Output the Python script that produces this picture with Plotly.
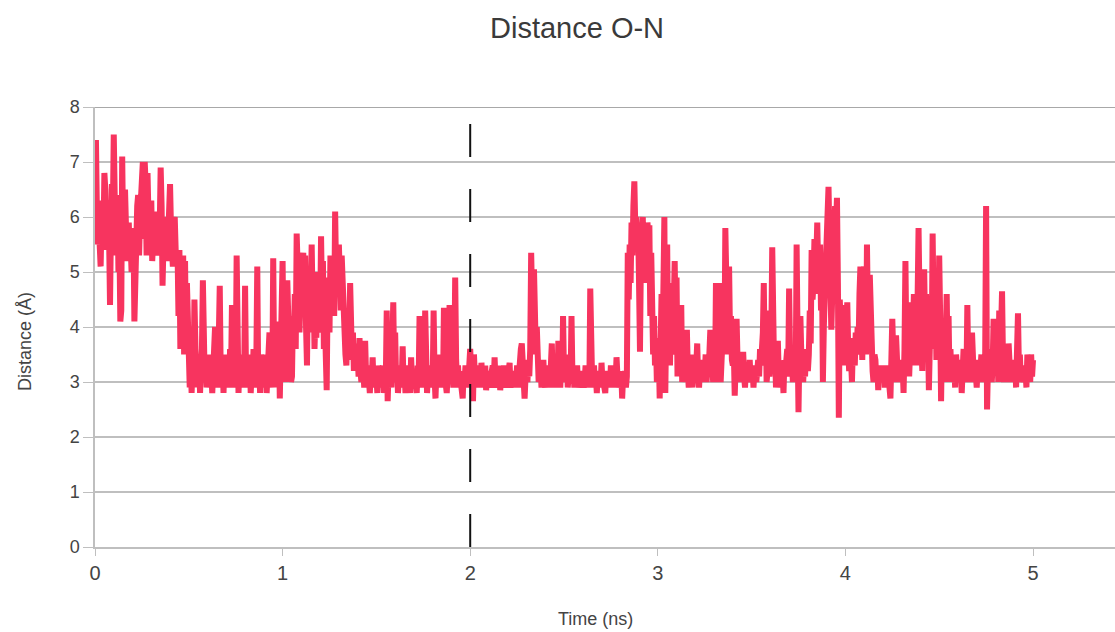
import plotly.graph_objects as go

# ---- data ----
time_step_ns = 0.005
distance_rows = [
    [5.6, 7.4, 6.1, 5.5, 5.9, 5.3, 5.1, 6.0, 6.3, 5.6, 6.8, 6.5, 5.4, 6.0, 6.3, 5.7, 4.4, 5.8, 6.6, 6.0],
    [7.5, 6.4, 5.3, 6.0, 6.4, 5.0, 5.6, 4.1, 4.3, 7.1, 5.6, 6.0, 6.5, 5.8, 5.2, 5.6, 5.9, 5.3, 5.5, 5.0],
    [5.4, 5.8, 4.1, 5.5, 5.8, 6.2, 6.4, 5.3, 6.0, 6.6, 6.9, 7.0, 5.6, 7.0, 6.6, 5.3, 6.8, 6.0, 5.3, 6.2],
    [6.3, 5.2, 5.6, 6.0, 5.6, 5.3, 6.1, 5.4, 5.3, 5.8, 6.9, 6.2, 4.75, 5.5, 6.0, 5.4, 5.8, 5.2, 5.6, 6.2],
    [6.6, 5.8, 5.5, 5.1, 5.9, 6.0, 5.4, 5.3, 5.4, 4.2, 5.4, 3.6, 5.3, 4.6, 5.3, 3.5, 5.2, 3.7, 4.8, 3.5],
    [3.4, 2.9, 3.5, 2.8, 3.3, 3.0, 4.5, 3.1, 2.9, 3.4, 3.0, 3.5, 2.8, 3.3, 3.6, 4.85, 3.2, 3.0, 3.4, 2.9],
    [3.3, 2.9, 3.5, 3.0, 3.2, 2.8, 3.4, 3.1, 4.0, 3.0, 3.3, 2.9, 3.5, 4.75, 3.2, 2.9, 3.4, 2.8, 3.3, 3.0],
    [3.5, 2.9, 3.2, 3.0, 3.6, 3.1, 4.4, 2.9, 3.3, 3.0, 3.2, 5.3, 3.4, 2.8, 3.3, 3.0, 3.5, 2.9, 3.2, 3.0],
    [4.75, 3.1, 2.9, 3.4, 3.0, 3.5, 2.8, 3.2, 3.0, 3.6, 3.1, 2.9, 3.4, 5.1, 3.0, 3.3, 2.8, 3.5, 3.1, 2.9],
    [3.3, 3.0, 3.5, 2.8, 3.4, 3.1, 3.9, 3.0, 3.3, 2.9, 5.25, 3.2, 3.0, 3.5, 2.9, 3.6, 4.1, 2.7, 3.8, 3.5],
    [5.2, 3.4, 4.0, 3.0, 3.6, 4.85, 4.2, 3.2, 3.6, 3.0, 3.1, 4.2, 3.8, 4.6, 3.6, 5.7, 4.5, 4.9, 3.9, 4.5],
    [4.2, 5.0, 5.35, 4.6, 5.3, 4.0, 3.3, 4.8, 4.3, 3.9, 4.6, 5.5, 4.4, 4.9, 3.6, 4.2, 3.8, 5.0, 4.5, 3.9],
    [4.1, 5.65, 4.5, 5.2, 3.6, 4.3, 3.5, 2.85, 4.6, 4.9, 3.9, 5.3, 4.4, 4.8, 5.0, 4.2, 6.1, 5.0, 5.4, 4.6],
    [5.5, 4.6, 4.3, 5.3, 4.7, 3.8, 4.1, 3.5, 3.3, 3.9, 3.5, 3.8, 4.8, 3.6, 3.4, 3.9, 3.2, 3.7, 3.3, 3.6],
    [3.5, 3.1, 3.8, 3.2, 3.0, 3.4, 3.3, 2.9, 3.75, 3.1, 2.9, 3.3, 3.0, 2.8, 3.2, 3.0, 3.45, 2.9, 3.2, 3.0],
    [3.1, 2.8, 3.3, 3.0, 3.2, 2.9, 3.1, 3.3, 2.8, 3.2, 3.0, 4.3, 2.65, 3.2, 3.0, 3.3, 2.9, 3.4, 4.45, 3.1],
    [3.9, 3.0, 3.3, 2.8, 3.1, 2.9, 3.3, 3.0, 3.65, 2.9, 3.2, 2.8, 3.1, 3.3, 2.9, 3.1, 2.8, 3.45, 3.0, 3.2],
    [2.9, 3.2, 3.0, 2.8, 3.3, 3.0, 4.2, 3.1, 2.9, 3.3, 3.0, 2.9, 4.3, 3.1, 2.8, 3.2, 3.0, 3.3, 2.9, 3.1],
    [3.0, 4.3, 3.1, 2.7, 3.2, 3.0, 3.3, 2.9, 3.5, 3.0, 3.2, 2.9, 4.35, 3.1, 3.0, 2.8, 3.2, 3.0, 4.4, 3.1],
    [3.0, 3.3, 2.9, 3.2, 4.9, 3.4, 3.0, 3.3, 2.9, 3.1, 3.0, 2.8, 2.7, 3.2, 3.0, 3.3, 2.9, 3.1, 3.0, 3.4],
    [3.6, 3.2, 3.4, 2.65, 3.5, 3.1, 3.2, 2.9, 3.3, 3.0, 3.3, 2.9, 3.35, 3.0, 3.1, 2.9, 3.3, 2.85, 3.2, 3.0],
    [3.1, 3.0, 2.9, 3.2, 3.3, 2.9, 3.45, 3.0, 2.9, 3.2, 3.0, 3.3, 2.85, 3.1, 3.0, 2.9, 3.3, 3.0, 3.2, 2.9],
    [3.0, 3.2, 3.35, 2.9, 3.1, 3.0, 3.2, 2.9, 3.2, 3.0, 3.3, 2.9, 3.4, 3.1, 3.6, 3.7, 3.2, 3.0, 2.7, 3.1],
    [3.2, 3.0, 3.4, 3.1, 3.6, 5.35, 4.4, 3.6, 5.05, 4.3, 3.5, 4.0, 3.3, 3.0, 3.1, 3.3, 2.9, 3.2, 3.4, 3.0],
    [2.9, 3.2, 3.0, 3.3, 3.1, 2.9, 3.3, 3.7, 3.0, 3.2, 2.9, 3.3, 3.1, 3.0, 3.75, 3.2, 2.9, 3.3, 3.0, 4.2],
    [3.1, 3.3, 3.0, 3.5, 2.9, 3.2, 3.3, 3.0, 4.2, 3.1, 3.3, 2.9, 3.2, 3.0, 3.3, 2.9, 3.1, 3.0, 3.2, 2.9],
    [3.2, 2.9, 3.0, 3.3, 3.1, 3.0, 3.3, 2.9, 4.7, 3.2, 3.0, 3.1, 3.3, 2.9, 3.1, 2.8, 3.2, 3.0, 3.1, 2.9],
    [3.35, 3.0, 3.2, 2.9, 2.8, 3.2, 3.1, 3.0, 3.2, 2.9, 3.3, 3.0, 3.1, 2.9, 3.2, 3.0, 3.45, 3.1, 2.9, 3.0],
    [2.9, 3.2, 2.7, 3.1, 3.0, 3.2, 2.9, 3.1, 5.35, 4.5, 5.5, 4.8, 5.9, 5.3, 6.2, 6.65, 5.8, 6.0, 5.6, 5.9],
    [4.8, 3.55, 5.3, 5.8, 6.0, 5.0, 5.8, 5.5, 4.8, 5.9, 5.6, 5.85, 4.2, 5.35, 4.5, 3.5, 4.2, 3.3, 3.8, 3.0],
    [3.2, 3.6, 2.7, 3.8, 4.6, 3.5, 5.4, 6.0, 2.8, 4.5, 5.5, 3.6, 4.8, 3.3, 4.4, 3.8, 3.5, 4.6, 5.2, 4.0],
    [4.9, 3.1, 3.6, 3.2, 3.5, 4.4, 3.0, 3.4, 3.1, 3.6, 3.0, 3.95, 3.2, 2.9, 3.4, 3.1, 3.3, 2.9, 3.5, 3.1],
    [3.0, 3.3, 3.7, 3.1, 2.9, 3.3, 3.2, 3.4, 3.0, 3.3, 3.1, 3.5, 3.0, 3.3, 3.1, 3.6, 3.95, 3.2, 3.4, 3.0],
    [3.4, 3.0, 4.8, 3.6, 3.2, 4.3, 4.8, 3.0, 3.6, 3.3, 4.2, 3.5, 5.8, 4.9, 3.5, 4.6, 5.1, 3.8, 4.2, 3.4],
    [3.3, 3.6, 2.75, 3.3, 4.15, 3.4, 3.0, 3.3, 3.2, 3.0, 3.4, 3.55, 3.1, 2.9, 3.3, 3.0, 3.2, 3.1, 3.4, 3.0],
    [3.1, 3.3, 2.9, 3.2, 3.3, 3.0, 3.2, 3.4, 3.1, 3.6, 3.3, 3.6, 3.9, 4.8, 3.3, 4.3, 3.0, 3.2, 3.5, 3.1],
    [3.4, 3.8, 5.45, 3.6, 3.2, 3.5, 2.9, 3.3, 3.75, 3.1, 3.0, 3.3, 2.9, 3.2, 2.8, 3.4, 3.1, 3.4, 3.6, 3.2],
    [4.7, 3.5, 3.1, 3.4, 3.0, 3.3, 3.4, 3.0, 5.5, 3.8, 2.45, 3.6, 4.2, 3.5, 3.3, 3.0, 3.4, 3.1, 3.6, 3.2],
    [3.2, 3.5, 4.3, 3.7, 5.4, 4.5, 4.8, 5.6, 4.6, 5.2, 5.9, 5.0, 4.8, 5.5, 4.3, 5.1, 3.0, 4.0, 4.6, 5.0],
    [5.2, 6.2, 6.55, 5.6, 5.0, 3.95, 4.6, 5.0, 5.6, 6.2, 5.8, 6.35, 4.8, 2.35, 4.5, 4.1, 3.6, 4.4, 3.3, 3.8],
    [3.6, 4.0, 4.45, 3.6, 3.2, 3.8, 3.5, 3.0, 3.7, 3.4, 3.3, 3.9, 3.5, 4.0, 3.6, 4.6, 5.1, 4.2, 3.4, 4.8],
    [5.1, 4.0, 3.5, 5.5, 4.2, 4.6, 4.95, 3.9, 3.6, 3.2, 3.0, 3.5, 3.4, 3.0, 3.3, 2.85, 3.3, 3.0, 3.3, 3.1],
    [3.1, 3.3, 2.9, 3.2, 3.0, 3.3, 3.1, 2.8, 2.7, 3.4, 4.15, 3.5, 3.0, 3.3, 3.85, 3.2, 3.0, 3.4, 3.1, 3.4],
    [3.0, 3.3, 2.8, 3.6, 5.2, 3.6, 3.2, 4.45, 3.1, 3.6, 4.0, 3.3, 3.8, 4.6, 3.5, 4.2, 3.3, 4.9, 5.8, 4.5],
    [4.2, 3.5, 3.2, 4.4, 5.05, 3.8, 4.6, 3.4, 4.0, 2.85, 3.5, 4.4, 3.6, 5.7, 4.3, 3.6, 4.9, 3.4, 4.1, 3.6],
    [5.3, 4.2, 2.65, 3.8, 3.2, 3.6, 3.0, 3.8, 4.6, 3.3, 4.2, 3.0, 3.6, 3.1, 3.5, 3.0, 3.3, 2.9, 3.5, 3.2],
    [3.0, 3.4, 3.1, 3.3, 2.8, 3.3, 3.6, 3.1, 3.4, 3.0, 4.4, 3.3, 3.0, 3.4, 3.1, 3.9, 3.2, 3.0, 3.4, 3.1],
    [2.9, 3.3, 3.4, 3.0, 3.2, 3.5, 3.0, 3.3, 3.1, 3.4, 6.2, 2.5, 3.3, 3.6, 3.1, 3.4, 3.0, 3.3, 4.15, 3.4],
    [3.2, 3.5, 3.6, 3.0, 4.3, 3.3, 3.8, 4.65, 3.4, 3.0, 3.3, 3.1, 3.4, 3.0, 3.7, 3.2, 3.0, 3.3, 3.1, 3.4],
    [3.1, 3.3, 2.9, 3.6, 4.25, 3.2, 3.5, 3.0, 3.3, 3.1, 3.0, 3.3, 3.2, 2.9, 3.5, 3.1, 3.4, 3.0, 3.5, 3.1],
    [3.4],
]
distance_values = [v for row in distance_rows for v in row]
time_values = [round(i * time_step_ns, 4) for i in range(len(distance_values))]

marker_time = [2, 2]
marker_distance = [0, 8]

x_tick_values = [0, 1, 2, 3, 4, 5]
y_tick_values = [0, 1, 2, 3, 4, 5, 6, 7, 8]

title_text = "Distance O-N"
x_title = "Time (ns)"
y_title = "Distance (Å)"

# ---- figure ----
W, H = 1115, 632
L, T, B, R = 95, 107, 85, 0
plot_w = W - L - R
plot_h = H - T - B
px_per_ns = 187.6
x_max = plot_w / px_per_ns

font_family = "Liberation Sans, Arial, sans-serif"
text_color = "#444444"
grid_color = "#bfbfbf"

fig = go.Figure()
fig.add_trace(go.Scatter(
    x=time_values, y=distance_values, mode="lines",
    line=dict(color="#f7345f", width=6),
    showlegend=False, hoverinfo="skip",
))
fig.add_trace(go.Scatter(
    x=marker_time, y=marker_distance, mode="lines",
    line=dict(color="#111111", width=2, dash="33px,32px"),
    showlegend=False, hoverinfo="skip",
))


def px_x(p):
    return (p - L) / plot_w


def px_y(p):
    return (H - B - p) / plot_h


fig.update_layout(
    width=W, height=H,
    margin=dict(l=L, r=R, t=T, b=B, pad=0),
    paper_bgcolor="white", plot_bgcolor="white",
    font=dict(family=font_family, color=text_color),
    xaxis=dict(
        range=[0, x_max], tickvals=x_tick_values,
        ticktext=[str(v) for v in x_tick_values],
        showgrid=False, zeroline=False,
        showline=True, linecolor=grid_color, linewidth=1.5,
        ticks="outside", ticklen=7, tickwidth=1, tickcolor=grid_color,
        tickfont=dict(size=20, color=text_color, family=font_family),
        fixedrange=True,
    ),
    yaxis=dict(
        range=[0, 8], tickvals=y_tick_values,
        showgrid=True, gridcolor=grid_color, gridwidth=1.5,
        zeroline=False,
        showline=True, linecolor=grid_color, linewidth=1.5,
        ticks="outside", ticklen=10, tickwidth=1, tickcolor=grid_color,
        tickfont=dict(size=18, color=text_color, family=font_family),
        fixedrange=True,
    ),
    annotations=[
        dict(text=title_text, xref="paper", yref="paper",
             x=px_x(577), y=px_y(28), xanchor="center", yanchor="middle",
             showarrow=False, font=dict(size=29, color="#3a3a3a", family=font_family)),
        dict(text=x_title, xref="paper", yref="paper",
             x=px_x(595), y=px_y(619), xanchor="center", yanchor="middle",
             showarrow=False, font=dict(size=18, color=text_color, family=font_family)),
        dict(text=y_title, xref="paper", yref="paper",
             x=px_x(25), y=px_y(342), xanchor="center", yanchor="middle",
             textangle=-90,
             showarrow=False, font=dict(size=18, color=text_color, family=font_family)),
    ],
)
# darker top border line at y=8
fig.add_shape(type="line", xref="paper", yref="y", x0=0, x1=1, y0=8, y1=8,
              line=dict(color="#a8a8a8", width=2), layer="below")

fig.write_html("out.html", config={"displayModeBar": False},
               post_script="document.body.style.margin='0';")
